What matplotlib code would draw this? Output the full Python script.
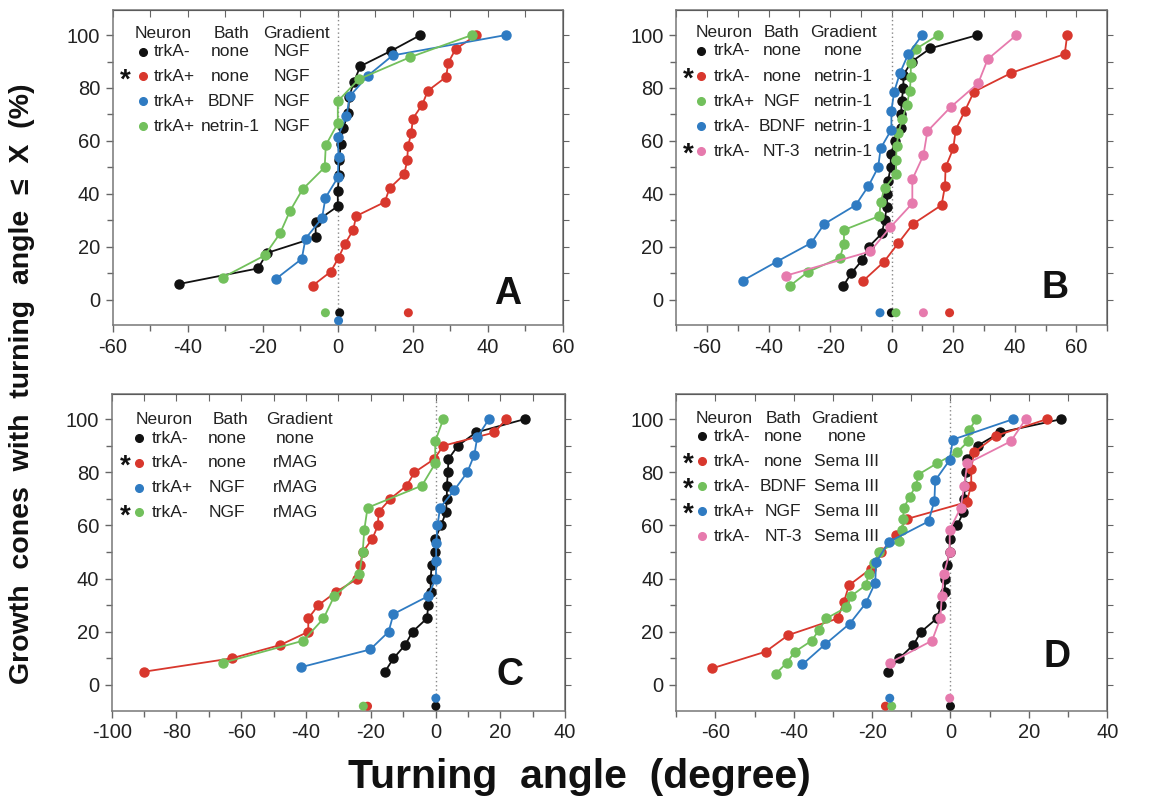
import numpy as np
import matplotlib.pyplot as plt
from matplotlib.ticker import MultipleLocator

plt.rcParams['font.family'] = ['Liberation Sans', 'DejaVu Sans']
plt.rcParams['axes.unicode_minus'] = False

BLACK = '#111111'
RED = '#d8372d'
BLUE = '#2f7bc2'
GREEN = '#72c05c'
PINK = '#e67aad'

# turning angles (degree) of each growth cone, sorted; y is cumulative %
# panel A
a_black = [-42.3, -21.3, -18.8, -5.9, -5.9, 0, 0, 0.3, 0.4, 0.8, 1.4, 2.8, 3.0, 4.3, 6.0, 14.3, 22.0]
a_red = [-6.7, -1.9, 0.2, 1.9, 4.1, 4.9, 12.5, 13.8, 17.7, 18.5, 18.7, 19.6, 20.0, 22.5, 24.0, 28.9, 29.4, 31.4, 36.9]
a_blue = [-16.6, -9.6, -8.6, -4.2, -3.3, 0, 0.2, 0, 2.3, 3.2, 8.0, 14.6, 44.7]
a_green = [-30.7, -19.5, -15.4, -12.8, -9.4, -3.5, -3.2, 0, 0, 5.6, 19.3, 35.7]
# panel B
b_black = [-15.8, -13.1, -9.5, -7.4, -3.2, -2.3, -1.6, -1.4, -1.2, -0.3, -0.3, 1.1, 2.9, 3.1, 3.2, 3.8, 3.8, 6.5, 12.6, 27.8]
b_red = [-9.2, -2.5, 2.2, 6.9, 16.2, 17.3, 17.5, 20.0, 20.8, 23.8, 26.7, 38.9, 56.2, 57.0]
b_green = [-33.0, -27.1, -16.8, -15.5, -15.5, -4.0, -3.6, -2.3, 1.3, 1.4, 1.6, 2.2, 3.5, 4.9, 5.9, 6.2, 6.2, 7.8, 15.1]
b_blue = [-48.4, -37.4, -26.1, -21.9, -11.7, -7.6, -4.4, -3.6, -0.1, -0.1, 0.8, 2.7, 5.4, 9.9]
b_pink = [-34.2, -7.0, -0.5, 6.7, 6.7, 10.3, 11.6, 19.1, 28.1, 31.2, 40.5]
# panel C
c_black = [-15.6, -13.0, -9.4, -7.1, -2.7, -2.2, -1.5, -1.5, -1.2, -0.1, -0.1, 1.7, 3.2, 3.5, 3.5, 3.8, 4.0, 6.9, 12.5, 27.5]
c_red = [-89.9, -63.0, -48.0, -39.3, -39.3, -36.2, -30.7, -24.1, -23.3, -22.5, -19.5, -17.8, -17.6, -14.0, -8.9, -6.5, -0.4, 2.4, 18.2, 21.8]
c_blue = [-41.6, -20.2, -14.5, -13.0, -2.4, 0.1, 0.2, 0.2, 0.6, 1.4, 5.8, 9.8, 12.0, 12.9, 16.5]
c_green = [-65.7, -40.8, -34.6, -31.3, -23.5, -22.5, -22.0, -21.0, -4.2, -0.1, -0.1, 2.4]
# panel D
d_black = [-15.9, -13.1, -9.5, -7.5, -3.5, -2.4, -1.5, -1.3, -1.0, -0.2, -0.2, 1.7, 3.3, 3.5, 3.7, 3.9, 4.1, 6.9, 12.7, 28.3]
d_red = [-60.8, -47.2, -41.4, -28.8, -27.2, -25.9, -20.3, -17.7, -14.0, -11.0, 4.1, 5.3, 5.3, 6.0, 11.6, 24.6]
d_green = [-44.6, -41.8, -39.7, -35.4, -33.5, -31.7, -26.6, -25.5, -21.6, -20.9, -19.5, -18.3,
           -13.1, -12.3, -12.1, -11.9, -10.4, -8.8, -8.2, -3.5, 1.7, 4.5, 4.7, 6.6]
d_blue = [-37.8, -31.9, -25.7, -21.6, -19.2, -19.0, -15.7, -5.6, -4.1, -3.9, -0.2, 0.6, 16.0]
d_pink = [-15.5, -4.7, -2.6, -2.2, -1.7, -0.2, -0.2, 2.6, 3.5, 4.3, 15.4, 19.2]

# mean angles shown below the curves (x, y row)
a_mean_x = [0.5, 18.8, 0.2, -3.3]
a_mean_y = [-5, -5, -8, -5]
b_mean_x = [-0.1, 18.8, 1.4, -3.8, 10.3]
b_mean_y = [-5, -5, -5, -5, -5]
c_mean_x = [0.1, -21.0, 0.1, -22.3]
c_mean_y = [-8, -8, -5, -8]
d_mean_x = [0.0, -16.6, -15.0, -15.5, -0.2]
d_mean_y = [-8, -8, -8, -5, -5]

# legend rows: star, neuron, bath, gradient
a_rows = [('', 'trkA-', 'none', 'NGF'), ('*', 'trkA+', 'none', 'NGF'),
          ('', 'trkA+', 'BDNF', 'NGF'), ('', 'trkA+', 'netrin-1', 'NGF')]
b_rows = [('', 'trkA-', 'none', 'none'), ('*', 'trkA-', 'none', 'netrin-1'),
          ('', 'trkA+', 'NGF', 'netrin-1'), ('', 'trkA-', 'BDNF', 'netrin-1'),
          ('*', 'trkA-', 'NT-3', 'netrin-1')]
c_rows = [('', 'trkA-', 'none', 'none'), ('*', 'trkA-', 'none', 'rMAG'),
          ('', 'trkA+', 'NGF', 'rMAG'), ('*', 'trkA-', 'NGF', 'rMAG')]
d_rows = [('', 'trkA-', 'none', 'none'), ('*', 'trkA-', 'none', 'Sema III'),
          ('*', 'trkA-', 'BDNF', 'Sema III'), ('*', 'trkA+', 'NGF', 'Sema III'),
          ('', 'trkA-', 'NT-3', 'Sema III')]

panels = [
    dict(letter='A', rect=[0.0958, 0.593, 0.3829, 0.3945], xlim=(-60, 60),
         series=[a_black, a_red, a_blue, a_green], colors=[BLACK, RED, BLUE, GREEN],
         mx=a_mean_x, my=a_mean_y, rows=a_rows,
         leg=dict(hy=0.924, y0=0.868, dy=0.079, star=0.029, mk=0.068, neu=0.092, bath=0.262, grad=0.397,
                  hneu=0.112, hbath=0.263, hgrad=0.409),
         lpos=(0.878, 0.10)),
    dict(letter='B', rect=[0.575, 0.593, 0.3665, 0.3945], xlim=(-70, 70),
         series=[b_black, b_red, b_green, b_blue, b_pink], colors=[BLACK, RED, GREEN, BLUE, PINK],
         mx=b_mean_x, my=b_mean_y, rows=b_rows,
         leg=dict(hy=0.929, y0=0.870, dy=0.0795, star=0.027, mk=0.058, neu=0.086, bath=0.245, grad=0.387,
                  hneu=0.111, hbath=0.245, hgrad=0.389),
         lpos=(0.879, 0.117)),
    dict(letter='C', rect=[0.095, 0.1105, 0.3855, 0.3965], xlim=(-100, 40),
         series=[c_black, c_red, c_blue, c_green], colors=[BLACK, RED, BLUE, GREEN],
         mx=c_mean_x, my=c_mean_y, rows=c_rows,
         leg=dict(hy=0.920, y0=0.860, dy=0.078, star=0.031, mk=0.060, neu=0.088, bath=0.255, grad=0.405,
                  hneu=0.116, hbath=0.263, hgrad=0.414),
         lpos=(0.879, 0.113)),
    dict(letter='D', rect=[0.575, 0.1105, 0.3665, 0.3965], xlim=(-70, 40),
         series=[d_black, d_red, d_green, d_blue, d_pink], colors=[BLACK, RED, GREEN, BLUE, PINK],
         mx=d_mean_x, my=d_mean_y, rows=d_rows,
         leg=dict(hy=0.922, y0=0.867, dy=0.079, star=0.028, mk=0.059, neu=0.087, bath=0.248, grad=0.396,
                  hneu=0.111, hbath=0.248, hgrad=0.391),
         lpos=(0.883, 0.169)),
]

fig = plt.figure(figsize=(11.76, 7.99), dpi=100)

for p in panels:
    ax = fig.add_axes(p['rect'])
    ax.axvline(0, color='#888888', lw=1.0, ls=(0, (1, 2)), zorder=1)
    for xs, col in zip(p['series'], p['colors']):
        xs = np.array(xs)
        ys = np.arange(1, len(xs) + 1) / len(xs) * 100
        ax.plot(xs, ys, '-o', color=col, lw=1.3, ms=6.5, mec=col, zorder=3)
    ax.scatter(p['mx'], p['my'], s=42, c=p['colors'], zorder=3, lw=0)

    ax.set_xlim(*p['xlim'])
    ax.set_ylim(-9.7, 109.5)
    ax.xaxis.set_major_locator(MultipleLocator(20))
    ax.xaxis.set_minor_locator(MultipleLocator(10))
    ax.set_yticks([0, 20, 40, 60, 80, 100])
    ax.yaxis.set_minor_locator(MultipleLocator(10))
    ax.tick_params(which='both', direction='out', color='#666666', labelsize=14.5,
                   labelcolor='#222222', pad=4)
    ax.tick_params(which='major', length=5, width=1)
    ax.tick_params(which='minor', length=4, width=1)
    for s in ax.spines.values():
        s.set_color('#777777')
        s.set_linewidth(1.1)

    top = ax.secondary_xaxis('top')
    top.xaxis.set_major_locator(MultipleLocator(10))
    top.tick_params(direction='in', length=5, color='#666666', labeltop=False)
    right = ax.secondary_yaxis('right')
    right.yaxis.set_major_locator(MultipleLocator(10))
    right.tick_params(direction='out', length=4, color='#666666', labelright=False)

    # legend table
    lg = p['leg']
    tk = dict(transform=ax.transAxes, fontsize=12.5, color='#222222', va='center')
    ax.text(lg['hneu'], lg['hy'], 'Neuron', ha='center', **tk)
    ax.text(lg['hbath'], lg['hy'], 'Bath', ha='center', **tk)
    ax.text(lg['hgrad'], lg['hy'], 'Gradient', ha='center', **tk)
    for i, (star, neu, bath, grad) in enumerate(p['rows']):
        y = lg['y0'] - i * lg['dy']
        col = p['colors'][i]
        ax.plot([lg['mk']], [y], 'o', color=col, ms=5.5, transform=ax.transAxes, clip_on=False)
        if star:
            ax.text(lg['star'], y - 0.012, '*', ha='center', transform=ax.transAxes,
                    fontsize=20, fontweight='bold', color='#111111', va='center')
        ax.text(lg['neu'], y, neu, ha='left', **tk)
        ax.text(lg['bath'], y, bath, ha='center', **tk)
        ax.text(lg['grad'], y, grad, ha='center', **tk)

    ax.text(p['lpos'][0], p['lpos'][1], p['letter'], transform=ax.transAxes, ha='center',
            va='center', fontsize=27, fontweight='bold', color='#111111')

fig.text(0.019, 0.52, 'Growth  cones  with  turning  angle  \u2264  X  (%)', rotation=90,
         ha='center', va='center', fontsize=20.5, fontweight='bold', color='#111111')
fig.text(0.493, 0.028, 'Turning  angle  (degree)', ha='center', va='center',
         fontsize=29.5, fontweight='bold', color='#111111')

fig.savefig('out.png', dpi=100)
